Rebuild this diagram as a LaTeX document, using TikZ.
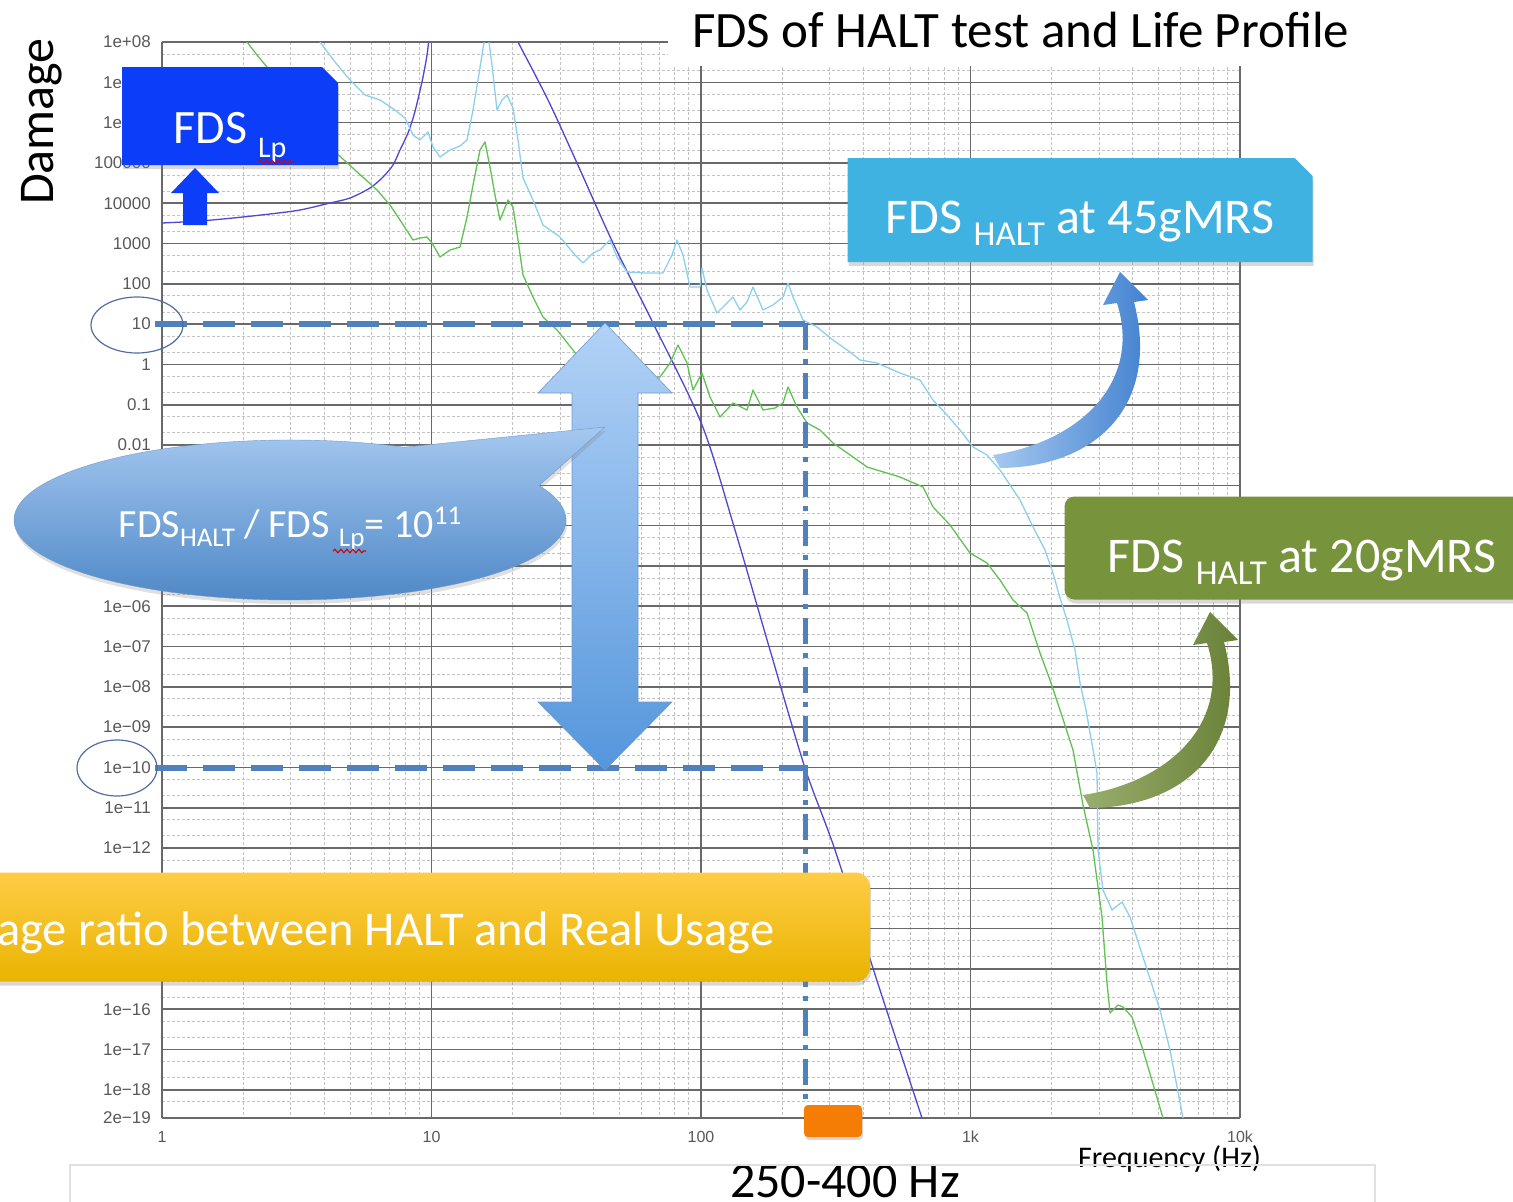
\documentclass[tikz,border=0pt]{standalone}
\usepackage{fontspec}
\setmainfont{Carlito}
\newfontfamily\axisfont{Liberation Sans}
\usetikzlibrary{calc,shapes.misc,shapes.callouts,shadows,decorations.pathmorphing}
\newcommand\fsz[1]{\fontsize{#1}{#1}\selectfont}
\definecolor{lpblue}{RGB}{12,62,250}
\definecolor{haltcyan}{RGB}{64,178,225}
\definecolor{haltgreen}{RGB}{119,147,60}
\definecolor{dashblue}{RGB}{79,129,189}
\definecolor{ringblue}{RGB}{80,110,160}
\definecolor{curvecyan}{RGB}{140,208,235}
\definecolor{curvegreen}{RGB}{95,195,80}
\definecolor{curvelp}{RGB}{80,70,210}
\definecolor{gridmaj}{RGB}{105,105,105}
\definecolor{gridmin}{RGB}{195,195,195}
\definecolor{bannertop}{RGB}{255,204,70}
\definecolor{bannerbot}{RGB}{233,180,0}
\definecolor{bandorange}{RGB}{245,125,5}
\definecolor{dblt}{RGB}{178,210,246}
\definecolor{dbdk}{RGB}{85,150,220}
\definecolor{arrlt}{RGB}{165,200,240}
\definecolor{arrdk}{RGB}{60,125,205}

\begin{document}
\begin{tikzpicture}[x=1pt,y=-1pt]
\tikzset{maj/.style={draw=gridmaj, line width=1.6pt}}
\tikzset{mnr/.style={draw=gridmin, line width=0.9pt, dash pattern=on 2.5pt off 2.5pt}}
\tikzset{ylab/.style={font=\axisfont\fsz{17}, text=black!65, anchor=east, inner sep=0pt}}
\tikzset{xlab/.style={font=\axisfont\fsz{16}, text=black!65, inner sep=0pt}}
\tikzset{crv/.style={line width=1.3pt, line join=round}}
\tikzset{lvl/.style={draw=dashblue, line width=6pt, dash pattern=on 32pt off 16pt}}
\tikzset{ring/.style={draw=ringblue, line width=1.2pt}}
\tikzset{tag/.style={text=white, inner sep=0pt, font=\fsz{48}, text depth=0pt, drop shadow={opacity=0.3,shadow xshift=1pt,shadow yshift=-4pt}}}
\tikzset{squig/.style={draw=red!85!black, line width=1.1pt, decorate, decoration={snake, segment length=6pt, amplitude=1.8pt}}}
\tikzset{pics/bendarr/.style={code={
  \shade[#1] (0,0) -- (28,28) -- (14,30) .. controls (40,130) and (-20,195) .. (-120,196)
    -- (-127,183) .. controls (-40,170) and (22,110) .. (-3,31) -- (-17,33) -- cycle;
}}}

\useasboundingbox (0,0) rectangle (1513,1202);
\fill[white] (0,0) rectangle (1513,1202);
\clip (0,0) rectangle (1513,1202);

\foreach \k in {0,...,26}
  \foreach \m in {0.301,0.699}
    \draw[mnr] (162,{42+40.3*(\k+\m)}) -- (1240,{42+40.3*(\k+\m)});
\foreach \d in {0,...,3}
  \foreach \m in {2,...,9}
    \draw[mnr] ({162+269.5*(\d+log10(\m))},42) -- ({162+269.5*(\d+log10(\m))},1118);
\foreach \k in {0,...,26}
  \draw[maj] (162,{42+40.3*\k}) -- (1240,{42+40.3*\k});
\foreach \d in {0,...,4}
  \draw[maj] ({162+269.5*\d},42) -- ({162+269.5*\d},1118);
\draw[maj] (162,1118) -- (1240,1118);

\foreach \i/\lab in {0/1e+08,1/1e+07,2/1e+06,3/100000,4/10000,5/1000,6/100,7/10,8/1,9/0.1,10/0.01,14/1e−06,15/1e−07,16/1e−08,17/1e−09,18/1e−10,19/1e−11,20/1e−12,24/1e−16,25/1e−17,26/1e−18}
  \node[ylab] (y\i) at (151,{42+40.3*\i}) {\lab};
\node[ylab] (ybot) at (151,1118) {2e−19};
\foreach \lab [count=\i from 0] in {1,10,100,1k,10k}
  \node[xlab] (x\i) at ({162+269.5*\i},1137) {\lab};

\begin{scope}
\clip (162,42) rectangle (1240,1118);
\draw[crv, curvelp] plot[smooth] coordinates {(162,223) (200,221) (233,218) (270,214) (300,210) (330,203) (350,198) (370,188) (383,177) (393,165) (400,150) (408,133) (414,115) (419,95) (423,77) (427,55) (430,30)};
\draw[crv, curvelp] plot[smooth] coordinates {(512,30) (518,42) (548,100) (577,163) (613,243) (653,323) (702,425) (735,530) (770,650) (805,768) (835,850) (880,990) (922,1118)};
\draw[crv, curvecyan] plot coordinates {(312,30) (320,42) (335,62) (350,80) (365,95) (380,100) (395,110) (405,118) (413,135) (420,140) (428,132) (433,147) (440,157) (450,150) (460,146) (467,140) (473,110) (478,80) (482,55) (486,30) (489,42) (492,65) (497,110) (502,100) (507,95) (513,108) (518,140) (523,178) (533,200) (543,225) (560,237) (575,255) (583,263) (593,253) (600,250) (610,240) (617,257) (627,272) (645,273) (663,273) (672,255) (677,240) (683,255) (690,287) (700,287) (702,268) (707,290) (717,313) (725,305) (733,297) (740,310) (747,302) (753,287) (763,310) (773,305) (783,297) (788,283) (793,297) (803,320) (817,327) (833,340) (850,352) (860,360) (877,363) (900,373) (920,380) (933,400) (947,415) (960,430) (973,447) (987,455) (1000,470) (1020,500) (1033,527) (1045,550) (1053,573) (1060,598) (1067,620) (1075,650) (1080,683) (1086,710) (1090,733) (1094,755) (1097,773) (1098,850) (1103,890) (1112,910) (1122,902) (1130,917) (1143,957) (1160,1010) (1170,1050) (1183,1118)};
\draw[crv, curvegreen] plot coordinates {(240,30) (247,42) (257,55) (267,67) (290,100) (310,125) (333,150) (355,170) (377,190) (390,205) (400,220) (413,240) (420,238) (427,237) (432,243) (440,257) (450,250) (460,247) (467,217) (474,180) (480,150) (485,142) (490,167) (495,195) (500,220) (508,200) (513,207) (518,240) (523,275) (533,297) (543,317) (557,330) (573,350) (583,363) (600,377) (620,378) (640,378) (660,377) (670,363) (678,345) (687,363) (693,390) (702,373) (710,397) (720,417) (733,403) (747,410) (753,390) (763,410) (775,408) (783,403) (788,387) (797,407) (807,423) (820,430) (833,443) (853,457) (867,467) (900,477) (923,487) (933,507) (950,525) (970,553) (987,563) (1000,580) (1013,600) (1027,613) (1040,653) (1050,680) (1060,710) (1073,750) (1083,805) (1093,850) (1102,917) (1107,983) (1110,1013) (1118,1005) (1123,1007) (1132,1017) (1143,1050) (1163,1118)};
\end{scope}

\fill[white] (668,0) rectangle (1513,66);
\node[anchor=base west, font=\fsz{51}, inner sep=0pt] (title) at (692,47) {FDS of HALT test and Life Profile};
\node[rotate=90, anchor=base west, font=\fsz{50}, inner sep=0pt] (dmg) at (53,205) {Damage};

\coordinate (d10) at (155,324);
\coordinate (c10) at (805,324);
\coordinate (d10m) at (155,768);
\coordinate (c10m) at (805,768);
\coordinate (fb) at (805,1105);
\coordinate (hi) at (605,323);
\coordinate (lo) at (605,770);
\draw[lvl] (d10) -- (c10);
\draw[lvl] (d10m) -- (c10m);
\draw[lvl, line width=5pt, dash pattern=on 26pt off 9pt on 5pt off 9pt] (c10) -- (fb);

\shade[top color=dblt, bottom color=dbdk, draw=dashblue!80, line width=0.6pt]
  (hi) -- ++(67,70) -- ++(-34,0) -- ($(lo)+(33,-68)$) -- ++(34,0) -- (lo)
  -- ++(-67,-68) -- ++(34,0) -- ($(hi)+(-33,70)$) -- ++(-34,0) -- cycle;

\draw[ring] (137,325) ellipse [x radius=46, y radius=28];
\draw[ring] (117,768) ellipse [x radius=40, y radius=28];

\node[tag, chamfered rectangle, chamfered rectangle corners=north east, chamfered rectangle sep=8pt, fill=lpblue, minimum width=216pt, minimum height=98pt, text height=54pt] (lp) at (230,116) {FDS \raisebox{-14pt}{\fsz{30}Lp}};
\draw[squig] (258,162) -- (294,162);
\coordinate (upt) at (195,168);
\fill[lpblue] (upt) -- ++(24,25) -- ++(-12,0) -- ++(0,32) -- ++(-24,0) -- ++(0,-32) -- ++(-12,0) -- cycle;

\node[ellipse callout, callout absolute pointer={(hi)+(0,104)}, callout pointer arc=40, minimum width=552pt, minimum height=160pt, top color=arrlt, bottom color=dbdk!90!black, draw=dashblue!80, text=white, font=\fsz{40}, inner sep=0pt, text height=34pt, text depth=0pt, drop shadow={opacity=0.25,shadow xshift=1pt,shadow yshift=-4pt}] (ratio) at (290,520) {FDS\raisebox{-9pt}{\fsz{27}HALT} / FDS \raisebox{-9pt}{\fsz{27}Lp}= 10\raisebox{13pt}{\fsz{27}11}};
\draw[squig] (333,551) -- (366,551);

\node[tag, font=\fsz{50}, chamfered rectangle, chamfered rectangle corners=north east, chamfered rectangle sep=9pt, fill=haltcyan, minimum width=465pt, minimum height=104pt, text height=46pt] (h45) at (1080,210) {FDS \raisebox{-12pt}{\fsz{35}HALT} at 45gMRS};
\node[tag, font=\fsz{50}, rounded corners=10pt, fill=haltgreen, minimum width=475pt, minimum height=103pt, text height=48pt] (h20) at (1302,548) {FDS \raisebox{-12pt}{\fsz{35}HALT} at 20gMRS};
\pic (a45) at (1120,272) {bendarr={left color=arrlt, right color=arrdk}};
\pic (a20) at (1210,612) {bendarr={left color=haltgreen!75!white, right color=haltgreen!85!black}};

\node[tag, font=\fsz{48.5}, rounded corners=14pt, top color=bannertop, bottom color=bannerbot, minimum width=1060pt, minimum height=109pt, text height=36pt] (banner) at (340,927) {Damage ratio between HALT and Real Usage};

\node[fill=bandorange, rounded corners=4pt, minimum width=58pt, minimum height=32pt, inner sep=0pt, drop shadow={opacity=0.3,shadow xshift=1pt,shadow yshift=-3pt}] (band) at (833,1121) {};
\node[anchor=base, font=\fsz{50}, inner sep=0pt] (range) at (845,1197) {250-400 Hz};
\node[anchor=base west, font=\fsz{30}, inner sep=0pt] (freq) at (1078,1167) {Frequency (Hz)};
\draw[black!12, line width=1.5pt] (70,1202) -- (70,1165) -- (1375,1165) -- (1375,1202);
\end{tikzpicture}
\end{document}
